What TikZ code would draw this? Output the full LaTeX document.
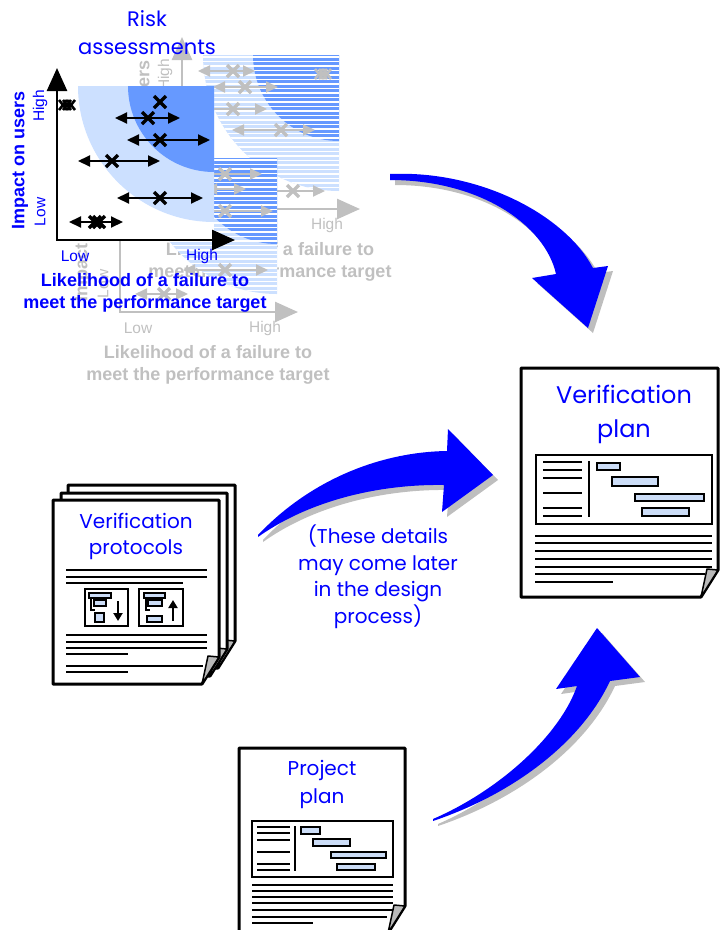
\documentclass[tikz,border=0pt]{standalone}
\usepackage{fontspec}
\setmainfont{Liberation Sans}
\newfontfamily\handfont{Poppins}
\usetikzlibrary{arrows.meta,positioning}

\definecolor{inkblue}{RGB}{0,0,255}
\definecolor{zonelight}{RGB}{204,224,255}
\definecolor{zonedark}{RGB}{102,153,255}
\definecolor{fadegray}{RGB}{192,192,192}
\definecolor{shadowgray}{RGB}{190,190,190}
\definecolor{curlgray}{RGB}{185,185,185}
\definecolor{barblue}{RGB}{204,221,247}

\tikzstyle{hand}=[text=inkblue, align=center, inner sep=0pt]
\tikzstyle{axislabel}=[font=\bfseries\fontsize{18}{22}\selectfont, align=center, inner sep=0pt]
\tikzstyle{ticklabel}=[font=\fontsize{15.5}{18}\selectfont, inner sep=0pt]
\tikzstyle{riskaxis}=[line width=2.6pt, -{Triangle[length=23pt,width=20pt]}]
\tikzstyle{spread}=[line width=2pt, {Triangle[length=12pt,width=11pt]}-{Triangle[length=12pt,width=11pt]}]
\tikzstyle{sheet}=[draw, fill=white, line width=3pt, line join=round]
\tikzstyle{curl}=[draw, fill=curlgray, line width=1.5pt, line join=round]
\tikzstyle{textline}=[line width=1.7pt]
\tikzstyle{ganttbar}=[draw, fill=barblue, line width=1.2pt]
\tikzstyle{bigarrow}=[fill=inkblue]
\tikzstyle{shadow}=[fill=shadowgray]

\tikzset{
  xmark/.pic={\draw[line width=3.3pt] (-6,-6) -- (6,6) (-6,6) -- (6,-6);},
  blob/.pic={\foreach \dx in {-4,0,4}
      \draw[line width=2.6pt] (\dx-4,-5) -- (\dx+4,5) (\dx-4,5) -- (\dx+4,-5);},
  pics/riskzones/.style={code={
    \begin{scope}
      \clip (78,86) rectangle (214,222);
      \fill[zonelight] (214,86) circle[radius=136];
      \fill[zonedark] (214,86) circle[radius=86];
    \end{scope}}},
  pics/stripes/.style={code={
    \begin{scope}
      \clip (78,86) rectangle (214,222);
      \clip (214,86) circle[radius=136];
      \foreach \y in {88,92.5,...,222}
        \draw[white, line width=1.3pt] (78,\y) -- (214,\y);
    \end{scope}}},
  pics/riskaxes/.style n args={2}{code={
    \draw[riskaxis, line cap=rect, #1] (57,240) -- (57,68);
    \draw[riskaxis, line cap=rect, #1] (57,240) -- (235,240);
    \node[axislabel, text=#2, rotate=90] (-impact) at (20,160) {Impact on users};
    \node[ticklabel, text=#2, rotate=90] (-yhigh) at (40,106) {High};
    \node[ticklabel, text=#2, rotate=90] (-ylow) at (40,212) {Low};
    \node[ticklabel, text=#2] (-xlow) at (75,256) {Low};
    \node[ticklabel, text=#2] (-xhigh) at (202,256) {High};
    \node[axislabel, text=#2] (-likely) at (145,293) {Likelihood of a failure to\\meet the performance target};
  }},
  pics/sheet/.style n args={2}{code={
    \draw[sheet] (0,0) -- (#1,0) -- (#1,#2-27) -- (#1-17,#2) -- (0,#2) -- cycle;
    \draw[curl] (#1,#2-27) -- (#1-11,#2-28) -- (#1-17,#2) -- cycle;
  }}
}

\begin{document}
\begin{tikzpicture}[x=1pt, y=-1pt]
    \useasboundingbox (0,0) rectangle (720,930);

    % risk charts stacked behind
    \pic (back) at (125,-31) {riskzones};
    \pic (backs) at (125,-31) {stripes};
    \pic (backaxes) at (125,-31) {riskaxes={fadegray}{fadegray}};
    \foreach \y/\a/\b/\c in {71/198/255/233, 87/213/278/245, 109/200/267/233, 130/232/315/281, 191/255/325/293}{
        \draw[spread, fadegray] (\a,\y) -- (\b,\y);
        \pic[color=fadegray] at (\c,\y) {xmark};
    }
    \pic[color=fadegray] at (323,74) {blob};

    \pic (mid) at (63,72) {riskzones};
    \pic (mids) at (63,72) {stripes};
    \pic (midaxes) at (63,72) {riskaxes={fadegray}{fadegray}};
    \foreach \y/\a/\b/\c in {174/190/262/225, 211/190/273/225, 270/183/268/225, 294/135/188/164}{
        \draw[spread, fadegray] (\a,\y) -- (\b,\y);
        \pic[color=fadegray] at (\c,\y) {xmark};
    }
    \draw[spread, fadegray] (205,189) -- (246,189);

    % front chart
    \fill[white] (57,86) rectangle (214,240);
    \pic (front) at (0,0) {riskzones};
    \foreach \y/\a/\b/\c in {118/115/180/148, 140/127/210/160, 161/78/160/112, 198/117/203/160, 222/69/123/99}{
        \draw[spread] (\a,\y) -- (\b,\y);
        \pic at (\c,\y) {xmark};
    }
    \pic at (95,222) {xmark};
    \pic at (160,102) {xmark};
    \pic at (67,105) {blob};
    \pic (frontaxes) at (0,0) {riskaxes={black}{inkblue}};

    \node[hand, font=\handfont\fontsize{21}{28}\selectfont] (risk) at (147,33) {Risk\\assessments};

    % verification plan
    \pic (plan) at (521,368) {sheet={197}{229}};
    \node[hand, font=\handfont\fontsize{24}{34}\selectfont] (plantitle) at (624,414) {Verification\\plan};
    \draw[line width=1.5pt] (536,455) rectangle (712,524);
    \foreach \y in {462,470,478,493,508,516}
        \draw[textline] (543,\y) -- (582,\y);
    \draw[textline] (589,461) -- (589,517);
    \draw[ganttbar] (597,463) rectangle (620,470);
    \draw[ganttbar] (612,477) rectangle (658,486);
    \draw[ganttbar] (635,494) rectangle (704,501);
    \draw[ganttbar] (642,508) rectangle (689,516);
    \foreach \y in {536,543,551,559,567}
        \draw[textline] (535,\y) -- (712,\y);
    \draw[textline] (535,574) -- (705,574);
    \draw[textline] (535,582) -- (613,582);

    % verification protocols
    \pic (protoc) at (68,485) {sheet={167}{183}};
    \pic (protob) at (61,493) {sheet={166}{183}};
    \pic (proto) at (53,500) {sheet={166}{184}};
    \node[hand, font=\handfont\fontsize{20}{26}\selectfont] (prototitle) at (136,536) {Verification\\protocols};
    \foreach \y in {570,577,635,642,648}
        \draw[textline] (66,\y) -- (207,\y);
    \draw[textline] (66,583) -- (183,583);
    \draw[textline] (66,654) -- (128,654);
    \draw[textline] (66,666) -- (203,666);
    \draw[textline] (66,672) -- (128,672);
    % test icons
    \draw[line width=1.5pt] (85,589) rectangle (128,626);
    \draw[ganttbar] (89,593) rectangle (111,598);
    \draw[ganttbar] (94,600) rectangle (106,606);
    \draw[line width=1.2pt] (91,598) -- (91,610) -- (95,610);
    \draw[ganttbar] (95,613) rectangle (104,622);
    \draw[line width=2.2pt, -{Triangle[length=8pt,width=9pt]}] (118,601) -- (118,621);
    \draw[line width=1.5pt] (139,589) rectangle (183,626);
    \draw[ganttbar] (144,593) rectangle (165,598);
    \draw[ganttbar] (148,600) rectangle (162,606);
    \draw[line width=1.2pt] (146,598) -- (146,610) -- (150,610);
    \draw[ganttbar] (147,616) rectangle (162,622);
    \draw[line width=2.2pt, -{Triangle[length=8pt,width=9pt]}] (173,621) -- (173,600);

    % project plan
    \pic (project) at (239,748) {sheet={166}{185}};
    \node[hand, font=\handfont\fontsize{20}{28}\selectfont] (projtitle) at (322,784) {Project\\plan};
    \draw[line width=1.5pt] (252,821) rectangle (393,877);
    \foreach \y in {827,833,840,852,864,870}
        \draw[textline] (257,\y) -- (290,\y);
    \draw[textline] (295,826) -- (295,871);
    \draw[ganttbar] (301,827) rectangle (320,834);
    \draw[ganttbar] (313,839) rectangle (350,846);
    \draw[ganttbar] (331,852) rectangle (386,858);
    \draw[ganttbar] (337,864) rectangle (375,870);
    \foreach \y in {885,891,897,903}
        \draw[textline] (252,\y) -- (393,\y);
    \draw[textline] (252,910) -- (393,910);
    \draw[textline] (252,917) -- (387,917);
    \draw[textline] (252,923) -- (313,923);

    % curved arrows with drop shadow
    \foreach \s/\c in {5/shadow, 0/bigarrow}{
        \fill[\c, shift={(\s,\s)}] (390,174) .. controls (480,170) and (565,215) .. (593,268)
            -- (608,266) -- (588,328) -- (532,278) -- (556,274)
            .. controls (545,225) and (480,180) .. (390,180) -- cycle;
        \fill[\c, shift={(\s,\s)}] (258,535) .. controls (310,480) and (380,452) .. (447,451)
            -- (448,429) -- (493,475) -- (442,512) -- (444,485)
            .. controls (380,484) and (310,500) .. (258,537) -- cycle;
        \fill[\c, shift={(\s,\s)}] (433,821) .. controls (510,795) and (580,745) .. (610,681)
            -- (640,677) -- (597,628) -- (556,689) -- (577,686)
            .. controls (560,735) and (500,790) .. (433,819) -- cycle;
    }
    \node[hand, font=\handfont\fontsize{20}{26.5}\selectfont] (later) at (378,577) {(These details\\may come later\\in the design\\process)};
\end{tikzpicture}
\end{document}
